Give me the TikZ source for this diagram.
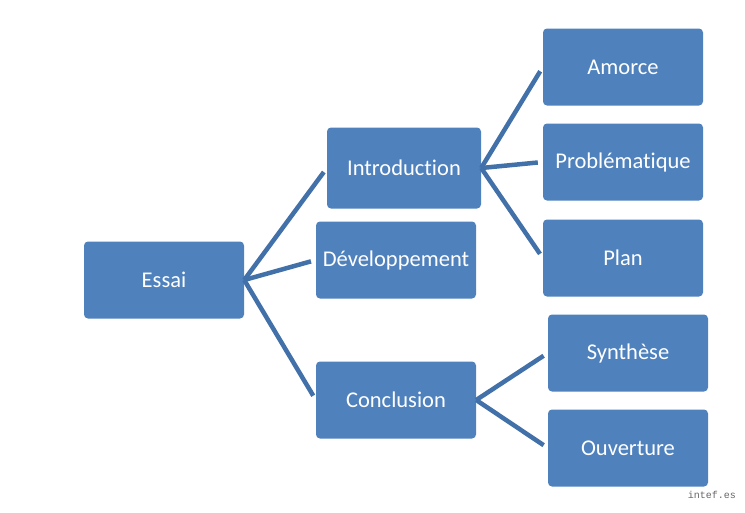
\documentclass[tikz,border=0pt]{standalone}
\usepackage{fontspec}
\setmainfont{Carlito}[Ligatures=NoCommon]
\setmonofont{Liberation Mono}
\usepackage{xcolor}
\definecolor{boxblue}{HTML}{4F81BD}
\definecolor{lineblue}{HTML}{4271AA}

\begin{document}
\begin{tikzpicture}[x=1pt, y=-1pt, every node/.style={rectangle, rounded corners=4pt, fill=boxblue, text=white, font=\fontsize{22.5}{25}\selectfont, minimum width=160pt, minimum height=77pt, inner sep=0pt}, branch/.style={draw=lineblue, line width=4.5pt, shorten >=5pt}]
  \useasboundingbox (0,0) rectangle (745,512);
  \node (essai) at (164,280) {Essai};
  \node[minimum width=154pt, minimum height=81pt] (intro) at (404,168) {Introduction};
  \node (devel) at (396,260) {Développement};
  \node (concl) at (396,400) {Conclusion};
  \node (amorce) at (623,67) {Amorce};
  \node (probl) at (623,162) {Problématique};
  \node (plan) at (623,258) {Plan};
  \node (synth) at (628,353) {Synthèse};
  \node (ouvert) at (628,448) {Ouverture};
  \foreach \child in {intro, devel, concl}
    \draw[branch] (essai.east) -- (\child.west);
  \foreach \child in {amorce, probl, plan}
    \draw[branch] (intro.east) -- (\child.west);
  \foreach \child in {synth, ouvert}
    \draw[branch] (concl.east) -- (\child.west);
  \node[fill=none, rounded corners=0pt, minimum width=0pt, minimum height=0pt, text=black!60, font=\ttfamily\fontsize{10}{12}\selectfont, anchor=east] (mark) at (736,495) {intef.es};
\end{tikzpicture}
\end{document}
